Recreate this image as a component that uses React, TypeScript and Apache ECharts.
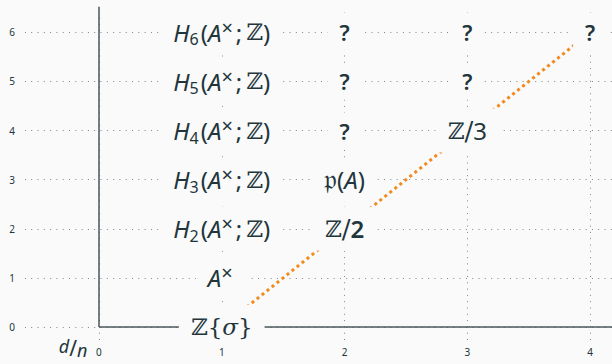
import React, { useEffect, useRef } from 'react';
import * as echarts from 'echarts';

// ---- data ----
const xTicks = [0, 1, 2, 3, 4];
const yTicks = [0, 1, 2, 3, 4, 5, 6];
const xTickLabels = ['0', '1', '2', '3', '4'];
const yTickLabels = ['0', '1', '2', '3', '4', '5', '6'];
const axisName = '{d|d}{sl|/}{n|n}';

// E2-page entries: [d, n, rich markup]
const entries: [number, number, string][] = [
  [1, 0, '{bb|ℤ}{br|{}{sg|σ}}'],
  [1, 1, '{it|A}{sup|×}'],
  [1, 2, '{it|H}{sub|2}{rm|(}{it|A}{sup|×}{rm|;\u2009}{bb|ℤ}{rm|)}'],
  [1, 3, '{it|H}{sub|3}{rm|(}{it|A}{sup|×}{rm|;\u2009}{bb|ℤ}{rm|)}'],
  [1, 4, '{it|H}{sub|4}{rm|(}{it|A}{sup|×}{rm|;\u2009}{bb|ℤ}{rm|)}'],
  [1, 5, '{it|H}{sub|5}{rm|(}{it|A}{sup|×}{rm|;\u2009}{bb|ℤ}{rm|)}'],
  [1, 6, '{it|H}{sub|6}{rm|(}{it|A}{sup|×}{rm|;\u2009}{bb|ℤ}{rm|)}'],
  [2, 2, '{bb|ℤ}{sl|/}{bd|2}'],
  [2, 3, '{fr|\u{1D52D}}{rm|(}{it|A}{rm|)}'],
  [2, 4, '{q|?}'],
  [2, 5, '{q|?}'],
  [2, 6, '{q|?}'],
  [3, 4, '{bb|ℤ}{sl|/}{rm|3}'],
  [3, 5, '{q|?}'],
  [3, 6, '{q|?}'],
  [4, 6, '{q|?}'],
];

// differentials: [from d, from n, to d, to n]
const differentials: [number, number, number, number][] = [
  [1, 0, 2, 2],
  [2, 2, 3, 4],
  [3, 4, 4, 6],
];

// ---- layout ----
const X_MIN = -0.806;
const X_MAX = 4.178;
const Y_MIN = -0.754;
const Y_MAX = 6.66;
const HGRID_X0 = -0.603;
const VGRID_Y0 = -0.265;
const VGRID_Y1 = 6.415;
const YAXIS_TOP = 6.52;
const XLAB_Y = -0.51;
const YLAB_X = -0.708;
const NAME_POS: [number, number] = [-0.21, -0.42];

const BG = '#fafafa';
const TEXT = '#22353b';
const GRID = '#7d868a';
const AXIS = '#4a575b';
const ORANGE = '#f28a1e';

const SANS = '"Noto Sans", "DejaVu Sans", sans-serif';
const SERIF = '"DejaVu Serif", serif';

const rich = {
  it: { fontFamily: SANS, fontStyle: 'italic', fontSize: 24, lineHeight: 30, color: TEXT },
  rm: { fontFamily: SANS, fontSize: 24, lineHeight: 30, color: TEXT },
  bd: { fontFamily: SANS, fontSize: 24, fontWeight: 600, lineHeight: 30, color: TEXT },
  sub: { fontFamily: SANS, fontSize: 16, lineHeight: 18, verticalAlign: 'bottom', color: TEXT, padding: [0, 2, 0, 0] },
  sup: { fontFamily: SANS, fontSize: 20, lineHeight: 18, verticalAlign: 'top', color: TEXT, padding: [0, 3, 0, 0] },
  bb: { fontFamily: SERIF, fontSize: 23, lineHeight: 30, color: TEXT },
  br: { fontFamily: SERIF, fontSize: 23, lineHeight: 30, color: TEXT },
  sg: { fontFamily: SERIF, fontStyle: 'italic', fontSize: 23, lineHeight: 30, color: TEXT },
  sl: { fontFamily: SERIF, fontSize: 26, lineHeight: 30, color: TEXT },
  fr: { fontFamily: SERIF, fontSize: 28, lineHeight: 30, color: TEXT },
  q: { fontFamily: SANS, fontSize: 22, fontWeight: 600, lineHeight: 22, color: TEXT },
};

const hidden = { color: 'rgba(0,0,0,0)', opacity: 1 };

function buildOption() {
  const tickLabelStyle = { show: true, position: 'inside', color: TEXT, fontSize: 10, fontFamily: SANS };
  return {
    animation: false,
    backgroundColor: BG,
    grid: { left: 0, right: 0, top: 0, bottom: 0 },
    xAxis: { type: 'value', min: X_MIN, max: X_MAX, show: false },
    yAxis: { type: 'value', min: Y_MIN, max: Y_MAX, show: false },
    series: [
      {
        type: 'lines',
        coordinateSystem: 'cartesian2d',
        silent: true,
        z: 1,
        lineStyle: { color: GRID, width: 1, type: [1, 5.3], opacity: 1 },
        data: yTicks.map((y) => ({ coords: [[HGRID_X0, y], [X_MAX, y]] })),
      },
      {
        type: 'lines',
        coordinateSystem: 'cartesian2d',
        silent: true,
        z: 1,
        lineStyle: { color: GRID, width: 1, type: [1, 5.3], opacity: 1 },
        data: xTicks.map((x) => ({ coords: [[x, VGRID_Y0], [x, VGRID_Y1]] })),
      },
      {
        type: 'lines',
        coordinateSystem: 'cartesian2d',
        silent: true,
        z: 2,
        lineStyle: { color: AXIS, width: 1.5, type: 'solid', opacity: 1 },
        data: [
          { coords: [[0, 0], [0, YAXIS_TOP]] },
          { coords: [[0, 0], [X_MAX, 0]] },
        ],
      },
      {
        type: 'lines',
        coordinateSystem: 'cartesian2d',
        silent: true,
        z: 3,
        lineStyle: { color: ORANGE, width: 3, type: [3, 3.4], opacity: 1 },
        data: differentials.map(([a, b, c, d]) => ({ coords: [[a, b], [c, d]] })),
      },
      {
        type: 'scatter',
        z: 10,
        symbolSize: 1,
        itemStyle: hidden,
        data: entries.map(([x, y]) => [x, y]),
        label: {
          show: true,
          position: 'inside',
          backgroundColor: BG,
          padding: [7, 12],
          fontFamily: SERIF,
          fontSize: 23,
          color: TEXT,
          lineHeight: 30,
          formatter: (p: any) => entries[p.dataIndex][2],
          rich,
        },
      },
      {
        type: 'scatter',
        z: 10,
        symbolSize: 1,
        itemStyle: hidden,
        data: xTicks.map((x) => [x, XLAB_Y]),
        label: { ...tickLabelStyle, formatter: (p: any) => xTickLabels[p.dataIndex] },
      },
      {
        type: 'scatter',
        z: 10,
        symbolSize: 1,
        itemStyle: hidden,
        data: yTicks.map((y) => [YLAB_X, y]),
        label: { ...tickLabelStyle, formatter: (p: any) => yTickLabels[p.dataIndex] },
      },
      {
        type: 'scatter',
        z: 10,
        symbolSize: 1,
        itemStyle: hidden,
        data: [NAME_POS],
        label: {
          show: true,
          position: 'inside',
          color: TEXT,
          formatter: () => axisName,
          rich: {
            d: { fontFamily: SANS, fontStyle: 'italic', fontSize: 18, lineHeight: 20, verticalAlign: 'top', color: TEXT },
            n: { fontFamily: SANS, fontStyle: 'italic', fontSize: 18, lineHeight: 16, verticalAlign: 'bottom', color: TEXT },
            sl: { fontFamily: SANS, fontSize: 21, lineHeight: 22, color: TEXT },
          },
        },
      },
    ],
  };
}

export default function App() {
  const ref = useRef<HTMLDivElement>(null);
  useEffect(() => {
    document.body.style.margin = '0';
    const chart = echarts.init(ref.current as HTMLDivElement, null, { renderer: 'svg' });
    chart.setOption(buildOption() as any);
    return () => chart.dispose();
  }, []);
  return <div ref={ref} style={{ width: 612, height: 364 }} />;
}
